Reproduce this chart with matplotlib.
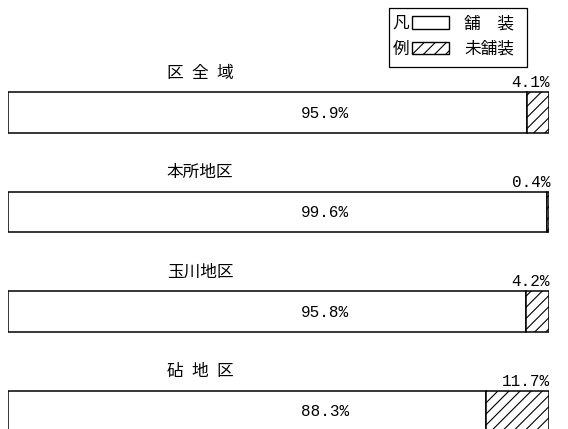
"""
Paved vs. unpaved road share by district (horizontal 100% bars).
"""
import matplotlib

matplotlib.use("Agg")
import matplotlib.pyplot as plt
from matplotlib.patches import Patch, Rectangle


districts = ["区\u2002全\u2002域", "本所地区", "玉川地区", "砧\u2002地\u2002区"]
paved = [95.9, 99.6, 95.8, 88.3]
unpaved = [4.1, 0.4, 4.2, 11.7]
legend_labels = ["舗\u2002\u2002装", "未舗装"]

JP = ["Noto Sans CJK JP", "DejaVu Sans"]
MONO = ["Liberation Mono", "DejaVu Sans Mono"]

W, H = 568, 429


def fx(px):
    return px / W


def fy(py):
    return 1 - py / H


def main() -> None:
    fig = plt.figure(figsize=(W / 100, H / 100), dpi=100)
    fig.patch.set_facecolor("white")
    plt.rcParams["hatch.linewidth"] = 0.8

    ax = fig.add_axes([fx(8), 0, 541 / W, 1])
    ax.set_xlim(0, 100)
    # one unit = ~99.5 px between bar centres; first bar centre at y=112.5 px
    ax.set_ylim((H - 112.5) / 99.5, -112.5 / 99.5)
    ax.set_axis_off()

    ys = list(range(len(districts)))
    bar_h = 0.41
    ax.barh(ys, paved, height=bar_h, left=0, color="white",
            edgecolor="black", linewidth=1.1)
    ax.barh(ys, unpaved, height=bar_h, left=paved, color="white",
            edgecolor="black", hatch="///", linewidth=1.1)

    for y, name, p, u in zip(ys, districts, paved, unpaved):
        ax.text(35.5, y - 0.395, name, ha="center", va="center",
                fontsize=12, family=JP)
        ax.text(58.6, y + 0.01, f"{p}%", ha="center", va="center",
                fontsize=11.5, family=MONO)
        ax.text(100.2, y - bar_h / 2 - 0.02, f"{u}%", ha="right",
                va="bottom", fontsize=11.5, family=MONO)

    # legend frame with vertical 凡/例 caption
    fig.patches.append(Rectangle((fx(389), fy(67)), fx(527) - fx(389),
                                 fy(8) - fy(67), transform=fig.transFigure,
                                 facecolor="white", edgecolor="black",
                                 linewidth=0.9))
    fig.text(fx(401), fy(23), "凡", ha="center", va="center",
             fontsize=12, family=JP)
    fig.text(fx(401), fy(49), "例", ha="center", va="center",
             fontsize=12, family=JP)
    handles = [
        Patch(facecolor="white", edgecolor="black", linewidth=1.0),
        Patch(facecolor="white", edgecolor="black", hatch="///", linewidth=1.0),
    ]
    fig.legend(handles, legend_labels, loc="upper left",
               bbox_to_anchor=(fx(409), fy(12)), frameon=False,
               prop={"family": JP, "size": 12}, handlelength=2.2,
               handleheight=0.75, handletextpad=0.9, labelspacing=0.5,
               borderpad=0.2, borderaxespad=0)

    fig.savefig("out.png", dpi=100, facecolor="white")
    plt.close(fig)


if __name__ == "__main__":
    main()
